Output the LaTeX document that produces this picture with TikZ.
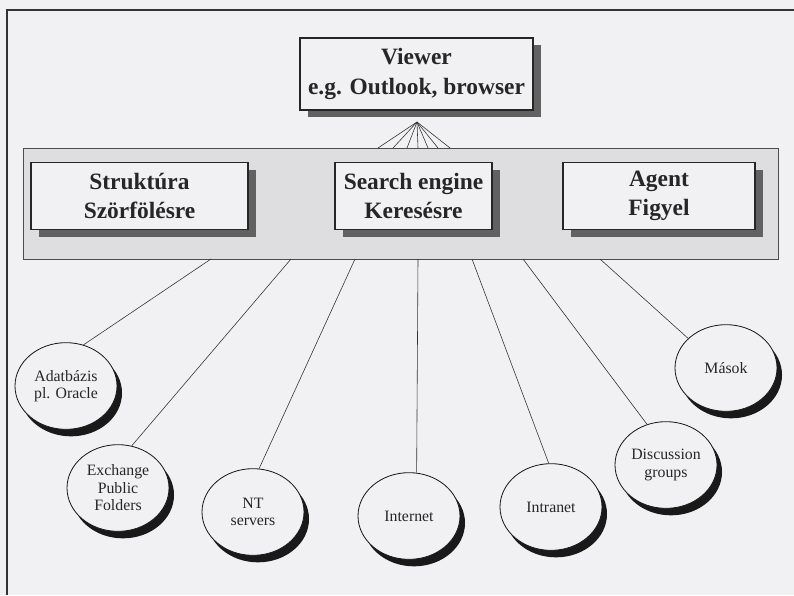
\documentclass[tikz,border=0pt]{standalone}
\usepackage{fontspec}
\setmainfont{Liberation Serif}
\usepackage{tikz}
\usetikzlibrary{shapes,shadows,positioning,calc}
\definecolor{paper}{RGB}{241,241,244}
\definecolor{bandgray}{RGB}{222,222,225}
\tikzset{
    framebox/.style={draw=black!85, line width=0.9pt, fill=paper, align=center, inner sep=0pt,
        text=black!85, font=\fontsize{20}{25}\selectfont\bfseries,
        drop shadow={shadow xshift=0.24cm, shadow yshift=-0.22cm, fill=black!62, opacity=1}},
    source/.style={ellipse, draw=black!90, line width=0.7pt, fill=paper, inner sep=0pt,
        minimum width=3.06cm, minimum height=2.6cm, align=center,
        text=black!85, font=\fontsize{13.5}{15}\selectfont,
        drop shadow={shadow xshift=0.15cm, shadow yshift=-0.21cm, fill=black!90, opacity=1}},
    link/.style={draw=black!80, line width=0.5pt}
}

\begin{document}
\begin{tikzpicture}[x=0.03cm, y=-0.03cm]
    \useasboundingbox[fill=paper] (0,0) rectangle (794,595);
    \draw[line width=1.2pt, black!80] (7,595) -- (7,10) -- (794,10);

    \node[draw=black!70, line width=0.7pt, fill=bandgray, inner sep=0pt,
        minimum width=22.65cm, minimum height=3.33cm] (band) at (400.5,203.5) {};

    \node[framebox, minimum width=6.99cm, minimum height=2.16cm] (viewer) at (416.5,74)
        {Viewer\\e.g. Outlook, browser};
    \foreach \name/\x/\w/\txt in {strukt/139.5/6.51cm/{Struktúra\\Szörfölésre},
            search/413.5/4.71cm/{Search engine\\Keresésre},
            agent/659/5.76cm/{Agent\\Figyel}} {
        \node[framebox, minimum width=\w, minimum height=2.0cm] (\name) at (\x,196) {\txt};
    }

    \coordinate (apex) at (417,122);
    \foreach \x [count=\i] in {378,393,407,418,428,438,450} {
        \coordinate (top-\i) at (\x,148);
        \draw[link] (apex) -- (top-\i);
    }

    \foreach \x/\y/\txt [count=\i] in {66/386/{Adatbázis\\pl. Oracle},
            118/488/{Exchange\\Public\\Folders},
            253/512/{NT\\servers},
            409/516/{Internet},
            551/507/{Intranet},
            666/465/{Discussion\\groups},
            726/368/{Mások}} {
        \node[source] (src-\i) at (\x,\y) {\txt};
    }

    \foreach \x/\a [count=\i] in {211/67,291/72,355/82,418/80,472/93,523/115,600/142} {
        \coordinate (foot-\i) at (\x,259);
        \draw[link] (foot-\i) -- (src-\i.\a);
    }
\end{tikzpicture}
\end{document}
